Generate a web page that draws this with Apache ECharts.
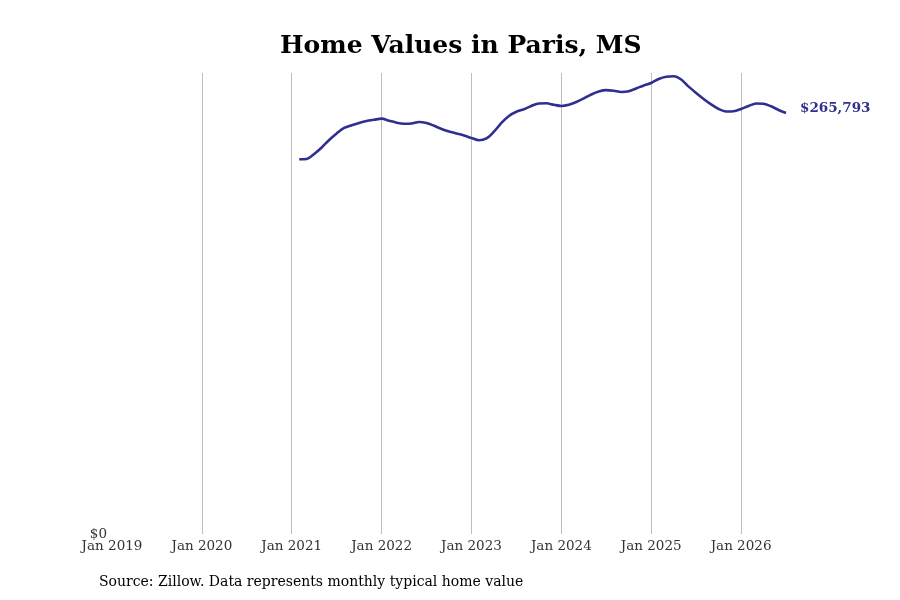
<!DOCTYPE html>
<html>
<head>
<meta charset="utf-8">
<title>Home Values in Paris, MS</title>
<script src="https://cdn.jsdelivr.net/npm/echarts@6/dist/echarts.min.js"></script>
<style>
    html, body { margin: 0; padding: 0; background: #fff; }
    #chart { width: 900px; height: 600px; }
</style>
</head>
<body>
<div id="chart"></div>
<script>
// 数据：2021年1月 ~ 2026年6月，每月典型房价（美元）
var startYear = 2021, startMonth = 1;
var homeValues = [
    236550, 236740, 239890, 244000, 248730, 252840, 256310, 258070, 259460, 260730, 261490, 262180,
    260920, 259650, 258960, 259150, 260100, 259460, 257700, 255680, 254100, 252840, 251570, 250000,
    248540, 249680, 253970, 259460, 263880, 266530, 268110, 270200, 271780, 271900, 270960, 270200,
    270960, 272720, 274930, 277460, 279350, 280170, 279790, 279030, 279480, 281240, 283140, 284720,
    287240, 288690, 288950, 286930, 282380, 278400, 274620, 271150, 268300, 266720, 266850, 268300,
    270200, 271780, 271590, 270010, 267670, 265793
];
var xTicks = [2019, 2020, 2021, 2022, 2023, 2024, 2025, 2026];
var lineColor = '#2f2f8f';
var serif = '"DejaVu Serif", serif';

// 月末日期换算成小数年份
var seriesData = [];
for (var i = 0; i < homeValues.length; i++) {
    var m = startMonth + i; // 月末 ≈ 下个月初
    seriesData.push([startYear + m / 12, homeValues[i]]);
}

function money(v) {
    return '$' + Math.round(v).toString().replace(/\B(?=(\d{3})+(?!\d))/g, ',');
}

var myChart = echarts.init(document.getElementById('chart'));
var option = {
    backgroundColor: '#fff',
    animation: false,
    title: {
        text: 'Home Values in Paris, MS',
        left: 275,
        top: 29,
        textStyle: { fontFamily: serif, fontSize: 25, fontWeight: 'bold', color: '#000' }
    },
    grid: { left: 112, right: 114, top: 73, bottom: 66, containLabel: false },
    xAxis: {
        type: 'value',
        min: xTicks[0],
        max: 2026.5,
        interval: 1,
        axisLine: { show: false },
        axisTick: { show: false },
        splitLine: { show: true, showMinLine: false, showMaxLine: false, lineStyle: { color: '#bdbdbd', width: 1 } },
        axisLabel: {
            fontFamily: serif, fontSize: 13.5, color: '#333', margin: 5,
            showMaxLabel: false,
            formatter: function (v) {
                return xTicks.indexOf(v) >= 0 ? 'Jan ' + v : '';
            }
        }
    },
    yAxis: {
        type: 'value',
        min: 0,
        max: 291000,
        interval: 291000,
        axisLine: { show: false },
        axisTick: { show: false },
        splitLine: { show: false },
        axisLabel: {
            fontFamily: serif, fontSize: 13.5, color: '#333', margin: 5,
            formatter: function (v) { return v === 0 ? '$0' : ''; }
        }
    },
    series: [{
        type: 'line',
        data: seriesData,
        showSymbol: false,
        smooth: 0.3,
        lineStyle: { color: lineColor, width: 2.6 },
        endLabel: {
            show: true,
            distance: 14,
            offset: [0, -4],
            fontFamily: serif, fontSize: 13.5, fontWeight: 'bold', color: lineColor,
            formatter: function (p) { return money(p.value[1]); }
        }
    }],
    graphic: [{
        type: 'text',
        left: 99,
        top: 575,
        style: {
            text: 'Source: Zillow. Data represents monthly typical home value',
            font: '14px "DejaVu Serif", serif',
            fill: '#000'
        }
    }]
};
myChart.setOption(option);
</script>
</body>
</html>
